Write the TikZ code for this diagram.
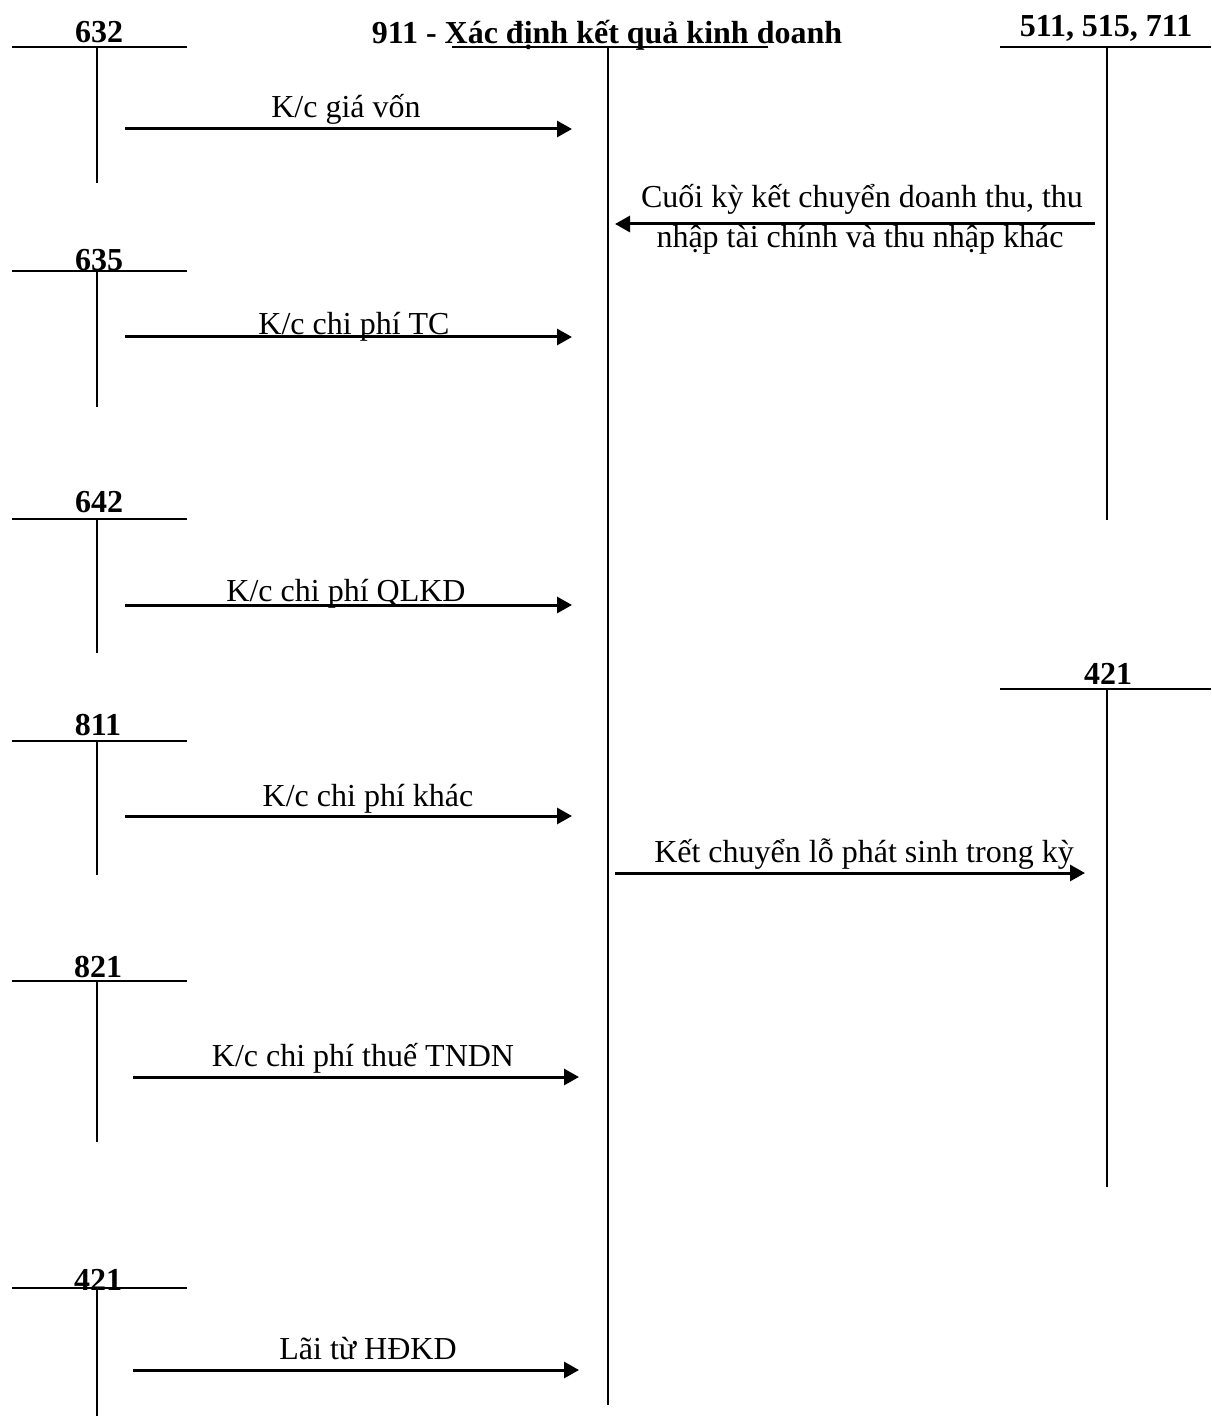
\documentclass[tikz,border=0pt]{standalone}
\usepackage{fontspec}
\setmainfont{Liberation Serif}
\usetikzlibrary{arrows.meta}

\tikzset{
    acct/.style={font=\fontsize{16pt}{20pt}\bfseries\selectfont, anchor=base, inner sep=0pt},
    lbl/.style={anchor=base, inner sep=0pt},
    tline/.style={line width=1pt},
    tstem/.style={line width=1pt},
    flow/.style={line width=1.5pt, -{Triangle[length=7.5pt,width=8pt]}}
}

\begin{document}
\begin{tikzpicture}[x=0.5pt,y=-0.5pt,font=\fontsize{16pt}{20pt}\selectfont]
    \useasboundingbox (0,0) rectangle (1211,1416);
    % account 911
    \node[acct] (N911) at (607,44) {911 - Xác định kết quả kinh doanh};
    \coordinate (M1) at (452,47);
    \coordinate (M2) at (768,47);
    \coordinate (M3) at (608,47);
    \coordinate (M4) at (608,1405);
    \draw[tline] (M1) -- (M2);
    \draw[tstem] (M3) -- (M4);
    %
    % accounts on the left
    \node[acct] (N632) at (99,43) {632};
    \draw[tline] (12,47) -- (187,47);
    \draw[tstem] (97,47) -- (97,183);
    %
    \node[acct] (N635) at (99,271) {635};
    \draw[tline] (12,271) -- (187,271);
    \draw[tstem] (97,271) -- (97,407);
    %
    \node[acct] (N642) at (99,512) {642};
    \draw[tline] (12,519) -- (187,519);
    \draw[tstem] (97,519) -- (97,653);
    %
    \node[acct] (N811) at (98,735) {811};
    \draw[tline] (12,741) -- (187,741);
    \draw[tstem] (97,741) -- (97,875);
    %
    \node[acct] (N821) at (98,977) {821};
    \draw[tline] (12,981) -- (187,981);
    \draw[tstem] (97,981) -- (97,1142);
    %
    \node[acct] (N421a) at (98,1290) {421};
    \draw[tline] (12,1288) -- (187,1288);
    \draw[tstem] (97,1288) -- (97,1416);
    %
    % accounts on the right
    \node[acct] (N511) at (1106,37) {511, 515, 711};
    \draw[tline] (1000,47) -- (1211,47);
    \draw[tstem] (1107,47) -- (1107,520);
    %
    \node[acct] (N421b) at (1108,684) {421};
    \draw[tline] (1000,689) -- (1211,689);
    \draw[tstem] (1107,689) -- (1107,1187);
    %
    % arrow ends
    \coordinate (A1) at (125,129);
    \coordinate (A2) at (572,129);
    \coordinate (B1) at (125,337);
    \coordinate (B2) at (572,337);
    \coordinate (C1) at (125,605);
    \coordinate (C2) at (572,605);
    \coordinate (D1) at (125,816);
    \coordinate (D2) at (572,816);
    \coordinate (E1) at (133,1077);
    \coordinate (E2) at (579,1077);
    \coordinate (F1) at (133,1370);
    \coordinate (F2) at (579,1370);
    \coordinate (G1) at (1095,224);
    \coordinate (G2) at (615,224);
    \coordinate (H1) at (615,873);
    \coordinate (H2) at (1085,873);
    %
    \draw[flow] (A1) -- (A2);
    \draw[flow] (B1) -- (B2);
    \draw[flow] (C1) -- (C2);
    \draw[flow] (D1) -- (D2);
    \draw[flow] (E1) -- (E2);
    \draw[flow] (F1) -- (F2);
    \draw[flow] (G1) -- (G2);
    \draw[flow] (H1) -- (H2);
    %
    \node[lbl] (LA) at (346,118) {K/c giá vốn};
    \node[lbl] (LB) at (354,335) {K/c chi phí TC};
    \node[lbl] (LC) at (346,601) {K/c chi phí QLKD};
    \node[lbl] (LD) at (368,806) {K/c chi phí khác};
    \node[lbl] (LE) at (363,1066) {K/c chi phí thuế TNDN};
    \node[lbl] (LF) at (368,1359) {Lãi từ HĐKD};
    \node[lbl] (LG1) at (862,208) {Cuối kỳ kết chuyển doanh thu, thu};
    \node[lbl] (LG2) at (860,248) {nhập tài chính và thu nhập khác};
    \node[lbl] (LH) at (864,862) {Kết chuyển lỗ phát sinh trong kỳ};
    %
\end{tikzpicture}
\end{document}
